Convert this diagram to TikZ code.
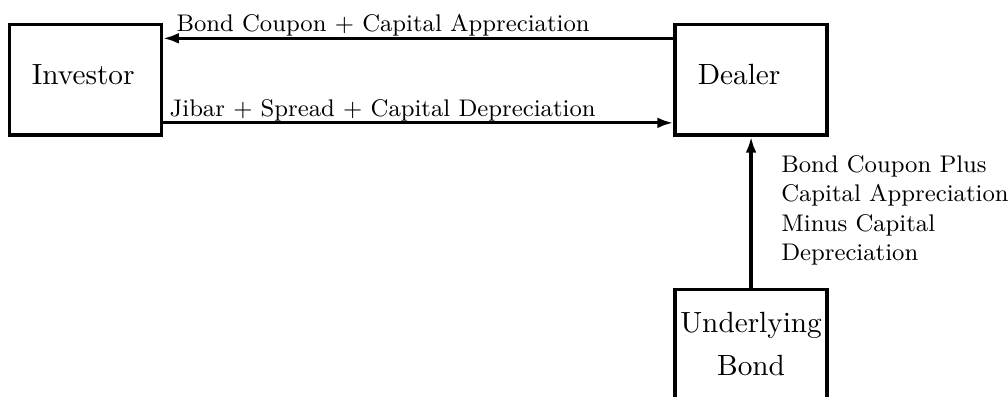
\documentclass[tikz,border=0pt]{standalone}
\usepackage{amsmath}
\usepackage{tikz}
\usetikzlibrary{arrows.meta}
\usetikzlibrary{positioning}
\tikzset{>={Latex[length=6pt,width=4pt]}}
\tikzstyle{box} = [rectangle, draw=black, line width=1.2pt, minimum width=2cm, minimum height=1.45cm, font=\fontsize{10.95pt}{13.6pt}\selectfont]
\tikzstyle{party} = [box, inner xsep=0.3cm, text width=1.4cm, align=left, text depth=4pt]
\tikzstyle{flow} = [->, line width=1.2pt]
\tikzstyle{lbl} = [draw=none, inner sep=0, font=\small]

\begin{document}
\begin{tikzpicture}
\useasboundingbox (0,0) rectangle (13.26,-5.22);
\node [party] (I) at (1.12,-1.05) {Investor};
\node [party] (D) at (9.88,-1.05) {Dealer};
\node [box, inner sep=0, text width=2cm, align=center] (U) at (9.88,-4.53) {Underlying\\[2.5pt] Bond};
\draw [flow] ([yshift=-0.2cm]D.north west) to node [lbl, pos=1, anchor=base west, xshift=0.16cm, yshift=0.09cm] {Bond Coupon $+$ Capital Appreciation} ([yshift=-0.2cm]I.north east);
\draw [flow] ([yshift=0.18cm]I.south east) to node [lbl, pos=0, anchor=base west, xshift=0.07cm, yshift=0.09cm] {Jibar $+$ Spread $+$ Capital Depreciation} ([yshift=0.18cm]D.south west);
\draw [flow] (U) to (D);
\node [lbl, anchor=north west, align=left] (L) at ([xshift=0.39cm, yshift=-0.24cm]D.south) {Bond Coupon Plus\\ Capital Appreciation\\ Minus Capital\\ Depreciation};
\end{tikzpicture}
\end{document}
